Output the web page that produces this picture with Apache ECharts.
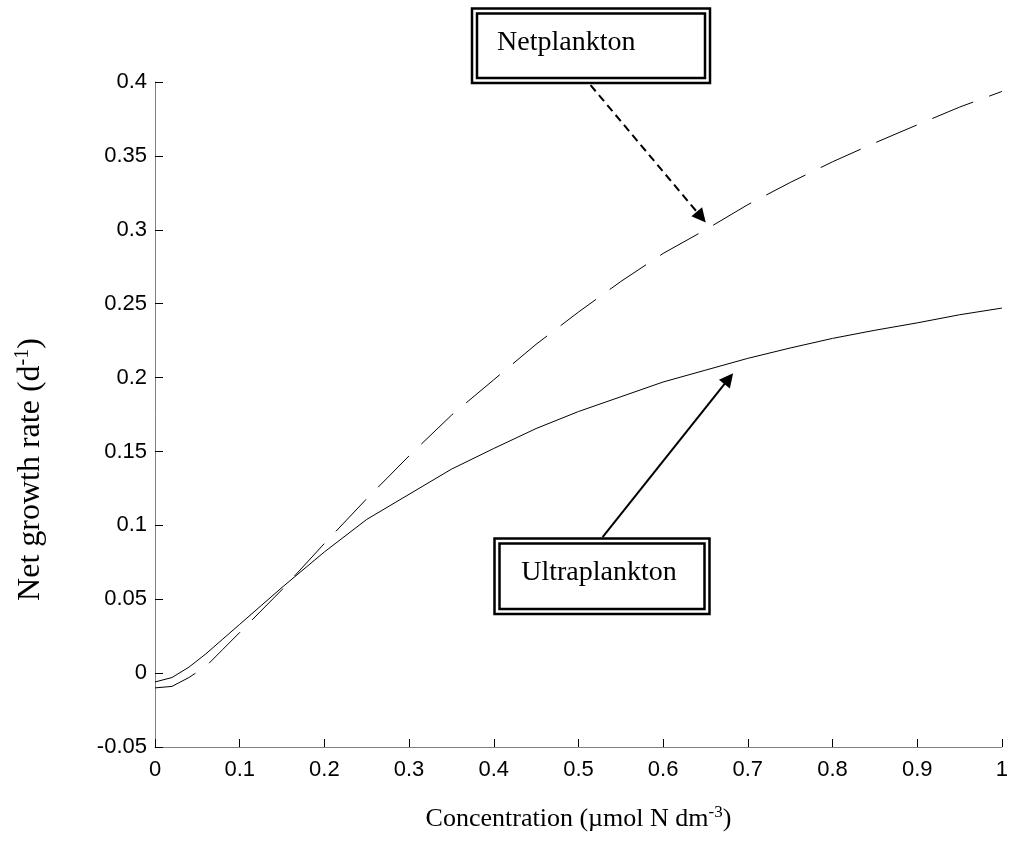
<!DOCTYPE html>
<html>
<head>
<meta charset="utf-8">
<script src="https://cdn.jsdelivr.net/npm/echarts@6/dist/echarts.min.js"></script>
<style>
  html, body { margin: 0; padding: 0; background: #fff; }
  #chart { width: 1011px; height: 843px; }
</style>
</head>
<body>
<div id="chart"></div>
<script>
// Nutrient concentration (µmol N dm^-3)
const concentration = [0, 0.02, 0.04, 0.06, 0.08, 0.10, 0.15, 0.20, 0.25, 0.30, 0.35, 0.40,
  0.45, 0.50, 0.55, 0.60, 0.65, 0.70, 0.75, 0.80, 0.85, 0.90, 0.95, 1.00];

// Net growth rate (d^-1) of the two size classes
const ultraplankton = [-0.006, -0.003, 0.004, 0.013, 0.023, 0.033, 0.058, 0.082, 0.104, 0.121, 0.138, 0.152,
  0.1655, 0.177, 0.187, 0.197, 0.205, 0.213, 0.220, 0.2265, 0.232, 0.237, 0.2425, 0.247];
const netplankton = [-0.010, -0.009, -0.003, 0.0045, 0.016, 0.0275, 0.0565, 0.0877, 0.118, 0.147, 0.1745, 0.1985,
  0.2225, 0.2443, 0.265, 0.284, 0.300, 0.317, 0.332, 0.346, 0.3588, 0.371, 0.383, 0.3936];

// Axis ticks
const xTicks = { min: 0, max: 1, step: 0.1 };
const yTicks = { min: -0.05, max: 0.4, step: 0.05 };

// Annotation arrows: [from, to] in data coordinates
const netArrow = [[0.5143, 0.3979], [0.645, 0.3086]];
const ultraArrow = [[0.5285, 0.0920], [0.6775, 0.1992]];

const serif = "'Liberation Serif', 'Times New Roman', serif";
const sans = "'Liberation Sans', Arial, sans-serif";

const pairs = (xs, ys) => xs.map((x, i) => [x, ys[i]]);
const fmt = v => String(Math.round(v * 100) / 100);

const chart = echarts.init(document.getElementById('chart'), null, { renderer: 'canvas' });

function arrowLine(pts, type) {
  return {
    silent: true,
    symbol: ['none', 'triangle'],
    symbolSize: 14,
    label: { show: false },
    emphasis: { disabled: true },
    lineStyle: { color: '#000', width: 2, type: type },
    data: [[{ coord: pts[0] }, { coord: pts[1] }]]
  };
}

chart.setOption({
  animation: false,
  backgroundColor: '#fff',
  grid: { left: 155, right: 8, top: 82, bottom: 96 },
  xAxis: {
    type: 'value',
    min: xTicks.min, max: xTicks.max, interval: xTicks.step,
    name: '{b|Concentration (µmol N dm}{s|-3}{b|)}',
    nameLocation: 'middle',
    nameGap: 57,
    nameTextStyle: {
      rich: {
        b: { fontFamily: serif, fontSize: 26, color: '#000', lineHeight: 31 },
        s: { fontFamily: serif, fontSize: 17, color: '#000', verticalAlign: 'top', lineHeight: 31 }
      }
    },
    axisLine: { onZero: false, lineStyle: { color: '#808080', width: 1 } },
    axisTick: { inside: true, length: 8, lineStyle: { color: '#000', width: 1 } },
    axisLabel: { margin: 12, color: '#000', fontFamily: sans, fontSize: 22, formatter: fmt },
    splitLine: { show: false }
  },
  yAxis: {
    type: 'value',
    min: yTicks.min, max: yTicks.max, interval: yTicks.step,
    name: '{b|Net growth rate (d}{s|-1}{b|)}',
    nameLocation: 'middle',
    nameGap: 106,
    nameTextStyle: {
      padding: [0, 110, 0, 0],
      rich: {
        b: { fontFamily: serif, fontSize: 32, color: '#000', lineHeight: 36 },
        s: { fontFamily: serif, fontSize: 20, color: '#000', verticalAlign: 'top', lineHeight: 36 }
      }
    },
    axisLine: { lineStyle: { color: '#808080', width: 1 } },
    axisTick: { inside: true, length: 8, lineStyle: { color: '#000', width: 1 } },
    axisLabel: { margin: 8, color: '#000', fontFamily: sans, fontSize: 22, formatter: fmt },
    splitLine: { show: false }
  },
  series: [
    {
      name: 'Netplankton',
      type: 'line',
      data: pairs(concentration, netplankton),
      showSymbol: false,
      smooth: false,
      lineStyle: { color: '#000', width: 1, type: [44, 17] },
      markLine: arrowLine(netArrow, [8, 5])
    },
    {
      name: 'Ultraplankton',
      type: 'line',
      data: pairs(concentration, ultraplankton),
      showSymbol: false,
      smooth: false,
      lineStyle: { color: '#000', width: 1 },
      markLine: arrowLine(ultraArrow, 'solid')
    }
  ],
  graphic: [
    // Netplankton label box (double border)
    { type: 'rect', shape: { x: 472, y: 8.5, width: 238, height: 74.5 },
      style: { fill: '#fff', stroke: '#000', lineWidth: 2.5 } },
    { type: 'rect', shape: { x: 477, y: 13.5, width: 228, height: 64.5 },
      style: { fill: 'none', stroke: '#000', lineWidth: 2.5 } },
    { type: 'text', x: 497, y: 43,
      style: { text: 'Netplankton', font: '28px ' + serif, fill: '#000', verticalAlign: 'middle', align: 'left' } },
    // Ultraplankton label box (double border)
    { type: 'rect', shape: { x: 494.5, y: 538.5, width: 215, height: 75.5 },
      style: { fill: '#fff', stroke: '#000', lineWidth: 2.5 } },
    { type: 'rect', shape: { x: 499.5, y: 543.5, width: 205, height: 65.5 },
      style: { fill: 'none', stroke: '#000', lineWidth: 2.5 } },
    { type: 'text', x: 599, y: 573,
      style: { text: 'Ultraplankton', font: '28px ' + serif, fill: '#000', verticalAlign: 'middle', align: 'center' } }
  ]
});
</script>
</body>
</html>
